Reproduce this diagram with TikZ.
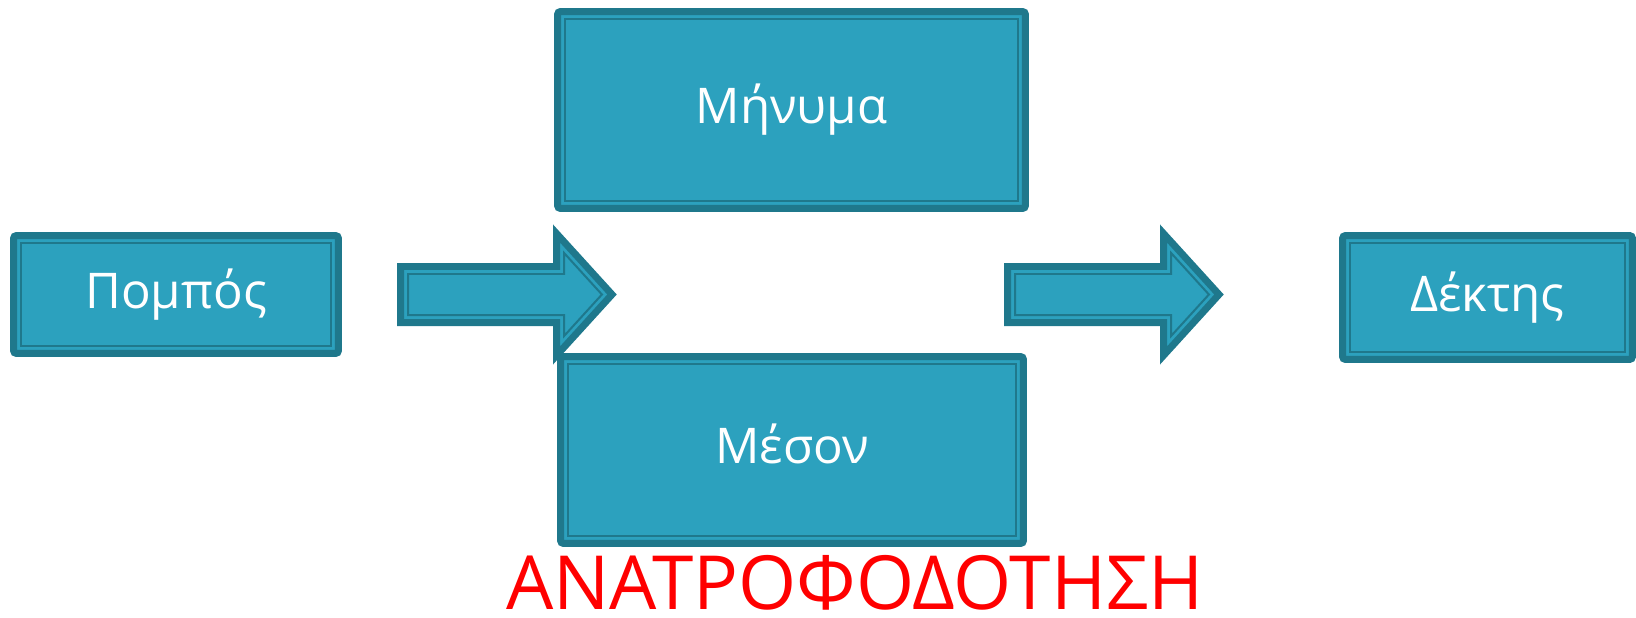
\documentclass[tikz,border=0pt]{standalone}
\usepackage{fontspec}
\setmainfont{Open Sans}

\begin{document}
\begin{tikzpicture}[x=0.02cm, y=-0.02cm,
  boxnode/.style={fill=Boxblue, draw=Boxedge, line width=0.14cm, rounded corners=0.06cm,
    inner sep=0pt, text=white, font=\fontsize{28}{34}\selectfont,
    text height=22pt, text depth=6.5pt,
    path picture={\draw[Boxedge, line width=0.04cm, sharp corners]
      ([shift={(0.15cm,-0.15cm)}]path picture bounding box.north west) rectangle
      ([shift={(-0.15cm,0.15cm)}]path picture bounding box.south east);}},
  arrowbody/.style={fill=Boxblue, draw=Boxedge, line width=0.14cm},
  arrowline/.style={draw=Boxedge, line width=0.04cm}]

% Colors
\definecolor{Boxblue}{RGB}{44,161,190}
\definecolor{Boxedge}{RGB}{31,120,140}

% Parameters
\def\yMid{294.5}
\def\headBase{156}
\def\tipX{211.5}

\useasboundingbox (0,0) rectangle (1636,618);

% Boxes
\node[boxnode, minimum width=6.5cm, minimum height=2.36cm] (pompos) at (176,294.5) {Πομπός};
\node[boxnode, minimum width=9.36cm, minimum height=3.94cm] (minyma) at (791.5,110) {Μήνυμα};
\node[boxnode, minimum width=9.26cm, minimum height=3.74cm] (meson) at (792,450) {Μέσον};
\node[boxnode, minimum width=5.8cm, minimum height=2.48cm] (dektis) at (1487.5,297.5) {Δέκτης};

% Block arrows
\foreach \x in {400.5,1007.5} {
  \filldraw[arrowbody] (\x,266.5) -- ++(\headBase,0) -- ++(0,-33)
    -- (\x+\tipX,\yMid) -- (\x+\headBase,355.5) -- ++(0,-33) -- (\x,322.5) -- cycle;
  \draw[arrowline] (\x+7.5,274) -- (\x+163.5,274) -- (\x+163.5,252.9)
    -- (\x+201.4,\yMid) -- (\x+163.5,336.1) -- (\x+163.5,315) -- (\x+7.5,315) -- cycle;
}

% Feedback
\node[text=red, font=\fontsize{42.5}{50}\selectfont, anchor=base, inner sep=0pt] (feedback) at (855,609) {ΑΝΑΤΡΟΦΟΔΟΤΗΣΗ};
\end{tikzpicture}
\end{document}
